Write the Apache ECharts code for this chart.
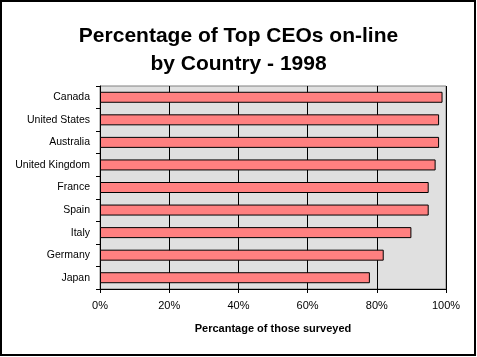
<!DOCTYPE html>
<html>
<head>
<meta charset="utf-8">
<script src="https://cdn.jsdelivr.net/npm/echarts@6/dist/echarts.min.js"></script>
<style>
html,body{margin:0;padding:0;background:#fff;}
#chart{width:477px;height:357px;}
</style>
</head>
<body>
<div id="chart"></div>
<script>
const countries = ["Canada","United States","Australia","United Kingdom","France","Spain","Italy","Germany","Japan"];
const percentOnline = [99,98,98,97,95,95,90,82,78];
const xTicks = [0,20,40,60,80,100];

const chart = echarts.init(document.getElementById('chart'), null, {renderer:'canvas'});
const font = 'Arial, "Liberation Sans", sans-serif';
chart.setOption({
  animation:false,
  backgroundColor:'#ffffff',
  title:{
    text:'Percentage of Top CEOs on-line\nby Country - 1998',
    left:'center', top:17,
    textStyle:{fontFamily:font,fontSize:21,fontWeight:'bold',color:'#000',lineHeight:28}
  },
  graphic:[{type:'rect',shape:{x:1,y:1,width:474,height:354},style:{fill:'none',stroke:'#000',lineWidth:2},silent:true}],
  grid:{left:100,right:31,top:86,bottom:68,show:true,backgroundColor:'#E0E0E0',borderColor:'#808080',borderWidth:1},
  xAxis:{
    type:'value',min:xTicks[0],max:xTicks[xTicks.length-1],interval:20,
    name:'Percantage of those surveyed',nameLocation:'middle',nameGap:34,
    nameTextStyle:{fontFamily:font,fontSize:11,fontWeight:'bold',color:'#000'},
    axisLine:{show:true,lineStyle:{color:'#000',width:1}},
    axisTick:{show:true,length:4,lineStyle:{color:'#000'}},
    axisLabel:{formatter:'{value}%',fontFamily:font,fontSize:11,color:'#000',margin:11},
    splitLine:{show:true,lineStyle:{color:'#000',width:1}}
  },
  yAxis:{
    type:'category',data:countries,inverse:true,
    axisLine:{show:true,lineStyle:{color:'#000',width:1}},
    axisTick:{show:true,length:4,lineStyle:{color:'#000'}},
    axisLabel:{fontFamily:font,fontSize:10.5,color:'#000',margin:10},
    splitLine:{show:false}
  },
  series:[{
    type:'bar',data:percentOnline,barWidth:11,
    itemStyle:{color:'#FF8080',borderColor:'#000',borderWidth:1}
  }]
});
</script>
</body>
</html>
